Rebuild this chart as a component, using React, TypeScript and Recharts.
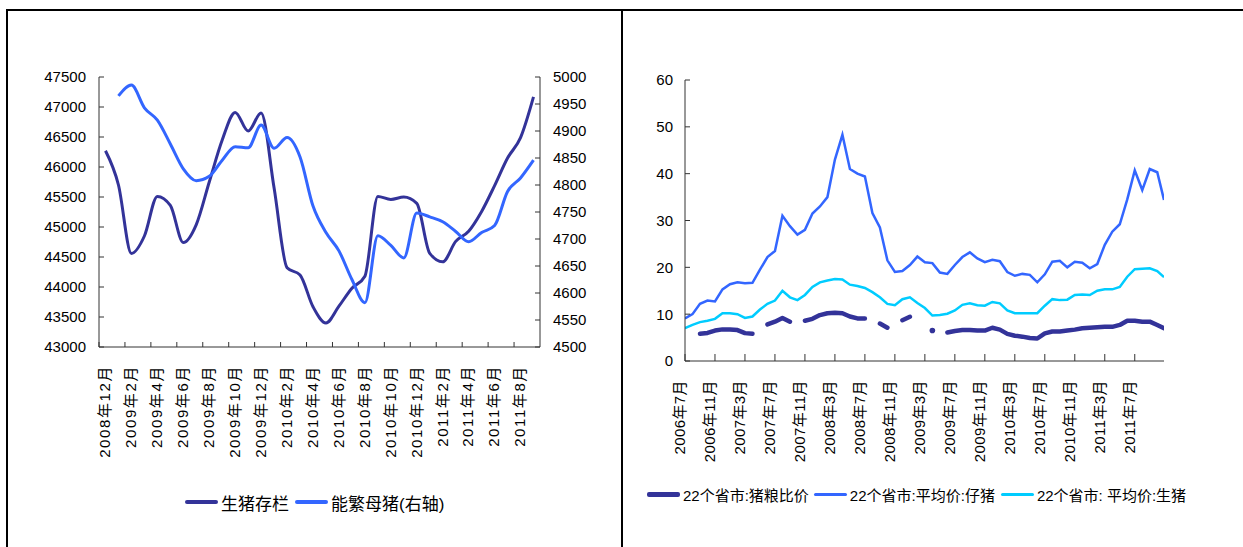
import React from "react";
import { LineChart, Line, XAxis, YAxis } from "recharts";

const FONT = "'Liberation Sans', Arial, 'Noto Sans CJK SC', sans-serif";
const DARK = "#333399";
const BLUE = "#3366FF";
const CYAN = "#00CCFF";
const AXIS = "#333";

// 左图：生猪存栏 / 能繁母猪（月度）
const stockMonths = [
  "2008年12月", "2009年1月", "2009年2月", "2009年3月", "2009年4月", "2009年5月",
  "2009年6月", "2009年7月", "2009年8月", "2009年9月", "2009年10月", "2009年11月",
  "2009年12月", "2010年1月", "2010年2月", "2010年3月", "2010年4月", "2010年5月",
  "2010年6月", "2010年7月", "2010年8月", "2010年9月", "2010年10月", "2010年11月",
  "2010年12月", "2011年1月", "2011年2月", "2011年3月", "2011年4月", "2011年5月",
  "2011年6月", "2011年7月", "2011年8月", "2011年9月",
];
const hogStock = [
  46270, 45700, 44560, 44850, 45510, 45360, 44740, 45040, 45750, 46450, 46910, 46600,
  46900, 45650, 44320, 44200, 43670, 43400, 43680, 43980, 44180, 45510, 45460, 45500,
  45395, 44560, 44420, 44760, 44930, 45260, 45690, 46150, 46490, 47170,
];
const sowStock = [
  null, 4965, 4985, 4943, 4920, 4876, 4830, 4808, 4816, 4846, 4871, 4869,
  4911, 4868, 4888, 4852, 4761, 4712, 4678, 4625, 4582, 4706, 4688, 4665,
  4748, 4741, 4732, 4714, 4695, 4712, 4725, 4788, 4813, 4846,
];
const leftTicks = [43000, 43500, 44000, 44500, 45000, 45500, 46000, 46500, 47000, 47500];
const rightTicks = [4500, 4550, 4600, 4650, 4700, 4750, 4800, 4850, 4900, 4950, 5000];

// 右图：22个省市价格（自 2006年7月 起的月数）
const priceMonths = [
  0, 1, 2, 3, 4, 5, 6, 7, 8, 9, 10, 11, 12, 13, 14, 15, 16, 17, 18, 19, 20, 21,
  22, 23, 24, 25, 26, 27, 28, 29, 30, 31, 32, 33, 34, 35, 36, 37, 38, 39, 40, 41,
  42, 43, 44, 45, 46, 47, 48, 49, 50, 51, 52, 53, 54, 55, 56, 57, 58, 59, 60, 61,
  62, 63, 63.9,
];
const pigGrainRatio = [
  null, null, 5.8, 6.0, 6.5, 6.75, 6.75, 6.6, 5.95, 5.8, null, 7.8, 8.4, 9.2, 8.4, null,
  8.6, 9.0, 9.8, 10.2, 10.3, 10.2, 9.5, 9.1, 9.1, null, 8.0, 7.1, null, 8.7, 9.45, null,
  null, 6.5, null, 6.1, 6.4, 6.6, 6.6, 6.5, 6.5, 7.1, 6.7, 5.8, 5.4, 5.2, 4.9, 4.8,
  5.9, 6.3, 6.3, 6.5, 6.7, 7.0, 7.1, 7.2, 7.3, 7.3, 7.7, 8.6, 8.6, 8.4, 8.4, 7.7, 7.0,
];
const pigletPrice = [
  9.1, 10.0, 12.2, 12.9, 12.7, 15.3, 16.4, 16.8, 16.6, 16.7, 19.5, 22.2, 23.5, 31.0,
  28.8, 27.0, 28.0, 31.5, 33.0, 35.0, 43.0, 48.3, 41.0, 40.0, 39.4, 31.6, 28.5, 21.5,
  19.0, 19.2, 20.5, 22.3, 21.1, 20.9, 18.9, 18.6, 20.5, 22.2, 23.2, 21.9, 21.1, 21.6,
  21.3, 19.0, 18.2, 18.6, 18.4, 16.8, 18.5, 21.2, 21.4, 20.0, 21.2, 21.0, 19.8, 20.7,
  24.8, 27.6, 29.2, 34.5, 40.7, 36.5, 41.0, 40.3, 34.4,
];
const hogPrice = [
  7.0, 7.7, 8.3, 8.6, 9.0, 10.2, 10.2, 10.0, 9.2, 9.5, 11.0, 12.2, 12.9, 15.0, 13.6,
  13.0, 14.1, 15.8, 16.8, 17.2, 17.5, 17.4, 16.3, 16.0, 15.6, 14.7, 13.6, 12.2, 11.9,
  13.2, 13.6, 12.4, 11.3, 9.7, 9.8, 10.1, 10.8, 12.0, 12.3, 11.9, 11.8, 12.6, 12.3,
  10.8, 10.2, 10.2, 10.2, 10.2, 11.8, 13.2, 13.0, 13.1, 14.1, 14.2, 14.1, 15.0, 15.3,
  15.3, 15.8, 18.0, 19.6, 19.7, 19.8, 19.2, 17.9,
];
const priceTickLabels = [
  "2006年7月", "2006年11月", "2007年3月", "2007年7月", "2007年11月", "2008年3月",
  "2008年7月", "2008年11月", "2009年3月", "2009年7月", "2009年11月", "2010年3月",
  "2010年7月", "2010年11月", "2011年3月", "2011年7月",
];
const priceTicks = [0, 4, 8, 12, 16, 20, 24, 28, 32, 36, 40, 44, 48, 52, 56, 60];
const priceYTicks = [0, 10, 20, 30, 40, 50, 60];

const stockData = stockMonths.map((month, i) => ({
  month,
  hog: hogStock[i],
  sow: sowStock[i],
}));

const priceData = priceMonths.map((m, i) => ({
  m,
  ratio: pigGrainRatio[i],
  piglet: pigletPrice[i],
  hog: hogPrice[i],
}));

// 左图横轴：标签在类别中心，刻度线在每两个月的分界处（朝内）
const StockMonthTick = (props: any) => {
  const { x, y, payload } = props;
  const axisY = y - 18;
  const bx = x - (payload.offset ?? 0);
  return (
    <g>
      <line x1={bx} y1={axisY} x2={bx} y2={axisY - 5} stroke={AXIS} />
      <text
        x={x}
        y={y}
        transform={`rotate(-90 ${x} ${y})`}
        textAnchor="end"
        dy="0.32em"
        fontSize={15}
        letterSpacing={1.6}
        fill="#000"
        fontFamily={FONT}
      >
        {payload.value}
      </text>
    </g>
  );
};

const PriceMonthTick = (props: any) => {
  const { x, y, payload } = props;
  const axisY = y - 19;
  const label = priceTickLabels[priceTicks.indexOf(payload.value)];
  return (
    <g>
      <line x1={x} y1={axisY} x2={x} y2={axisY - 7} stroke={AXIS} />
      <text
        x={x}
        y={y}
        transform={`rotate(-90 ${x} ${y})`}
        textAnchor="end"
        fontSize={15}
        letterSpacing={0.4}
        fill="#000"
        fontFamily={FONT}
      >
        {label}
      </text>
    </g>
  );
};

// 纵轴：刻度线朝内
const makeYTick = (side: "left" | "right", margin: number) => (props: any) => {
  const { x, y, payload } = props;
  const axisX = side === "left" ? x + margin : x - margin;
  const inner = side === "left" ? axisX + 5 : axisX - 5;
  return (
    <g>
      <line x1={axisX} y1={y} x2={inner} y2={y} stroke={AXIS} />
      <text
        x={x}
        y={y}
        dy="0.36em"
        textAnchor={side === "left" ? "end" : "start"}
        fontSize={15}
        fill="#000"
        fontFamily={FONT}
      >
        {payload.value}
      </text>
    </g>
  );
};
const StockLeftTick = makeYTick("left", 13);
const StockRightTick = makeYTick("right", 13);
const PriceYTick = makeYTick("left", 12);

// 猪粮比价有缺口，孤立的单点画成圆点
const ratioDot = (props: any) => {
  const { cx, cy, index } = props;
  const cur = pigGrainRatio[index];
  const prev = pigGrainRatio[index - 1];
  const next = pigGrainRatio[index + 1];
  if (cur == null || cy == null || prev != null || next != null) {
    return <g key={`rd${index}`} />;
  }
  return <circle key={`rd${index}`} cx={cx} cy={cy} r={2.8} fill={DARK} />;
};

const LegendItem = ({ color, label, thick, gap }: any) => (
  <span style={{ display: "inline-flex", alignItems: "center", marginRight: gap }}>
    <span style={{ width: 33, height: thick, background: color, marginRight: 3, borderRadius: 2 }} />
    <span>{label}</span>
  </span>
);

export default function App() {
  return (
    <div style={{ position: "relative", width: 1243, height: 547, background: "#fff", fontFamily: FONT, overflow: "hidden" }}>
      <style>{`body{margin:0}`}</style>

      {/* 边框 */}
      <div style={{ position: "absolute", left: 6, top: 9, width: 1237, height: 2, background: "#000" }} />
      <div style={{ position: "absolute", left: 6, top: 9, width: 2, height: 538, background: "#000" }} />
      <div style={{ position: "absolute", left: 621, top: 9, width: 2, height: 538, background: "#000" }} />

      {/* 左图 */}
      <div style={{ position: "absolute", left: 0, top: 0 }}>
        <LineChart width={622} height={547} data={stockData} margin={{ top: 77, right: 0, bottom: 0, left: 0 }}>
          <XAxis
            dataKey="month"
            scale="band"
            interval={1}
            tickLine={false}
            tickSize={0}
            tickMargin={18}
            height={200}
            tick={<StockMonthTick />}
            stroke={AXIS}
          />
          <YAxis
            yAxisId="left"
            domain={[43000, 47500]}
            ticks={leftTicks}
            width={99}
            tickLine={false}
            tickSize={0}
            tickMargin={13}
            tick={<StockLeftTick />}
            stroke={AXIS}
            interval={0}
          />
          <YAxis
            yAxisId="right"
            orientation="right"
            domain={[4500, 5000]}
            ticks={rightTicks}
            width={82}
            tickLine={false}
            tickSize={0}
            tickMargin={13}
            tick={<StockRightTick />}
            stroke={AXIS}
            interval={0}
          />
          <Line yAxisId="left" type="monotone" dataKey="hog" stroke={DARK} strokeWidth={3} dot={false} isAnimationActive={false} />
          <Line yAxisId="right" type="monotone" dataKey="sow" stroke={BLUE} strokeWidth={3} dot={false} isAnimationActive={false} />
        </LineChart>
      </div>
      <div style={{ position: "absolute", left: 185, top: 490, height: 24, display: "flex", alignItems: "center", fontSize: 17, color: "#000", whiteSpace: "nowrap" }}>
        <LegendItem color={DARK} label="生猪存栏" thick={4} gap={6} />
        <LegendItem color={BLUE} label="能繁母猪(右轴)" thick={4} gap={0} />
      </div>

      {/* 右图 */}
      <div style={{ position: "absolute", left: 622, top: 0 }}>
        <LineChart width={621} height={547} data={priceData} margin={{ top: 80, right: 79, bottom: 0, left: 0 }}>
          <XAxis
            dataKey="m"
            type="number"
            domain={[0, 63.9]}
            ticks={priceTicks}
            allowDataOverflow
            interval={0}
            tickLine={false}
            tickSize={0}
            tickMargin={19}
            height={186}
            tick={<PriceMonthTick />}
            stroke={AXIS}
          />
          <YAxis
            domain={[0, 60]}
            ticks={priceYTicks}
            width={63}
            tickLine={false}
            tickSize={0}
            tickMargin={12}
            tick={<PriceYTick />}
            stroke={AXIS}
            interval={0}
          />
          <Line
            type="linear"
            dataKey="ratio"
            stroke={DARK}
            strokeWidth={4.5}
            strokeLinecap="round"
            strokeLinejoin="round"
            dot={ratioDot}
            connectNulls={false}
            isAnimationActive={false}
          />
          <Line type="linear" dataKey="piglet" stroke={BLUE} strokeWidth={2.5} dot={false} isAnimationActive={false} />
          <Line type="linear" dataKey="hog" stroke={CYAN} strokeWidth={2.5} dot={false} isAnimationActive={false} />
        </LineChart>
      </div>
      <div style={{ position: "absolute", left: 647, top: 482, height: 24, display: "flex", alignItems: "center", fontSize: 15, color: "#000", whiteSpace: "nowrap" }}>
        <LegendItem color={DARK} label="22个省市:猪粮比价" thick={5} gap={5} />
        <LegendItem color={BLUE} label="22个省市:平均价:仔猪" thick={3} gap={6} />
        <LegendItem color={CYAN} label="22个省市: 平均价:生猪" thick={3} gap={0} />
      </div>
    </div>
  );
}
